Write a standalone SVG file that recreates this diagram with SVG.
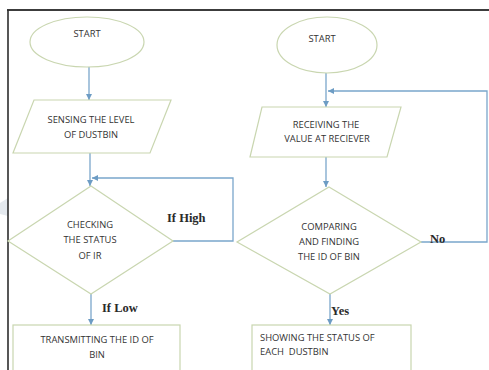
<svg xmlns="http://www.w3.org/2000/svg" width="489" height="370" viewBox="0 0 489 370">
<defs>
<marker id="ah" markerUnits="userSpaceOnUse" markerWidth="7" markerHeight="7" refX="6" refY="3.5" orient="auto">
<path d="M0,0.5 L6,3.5 L0,6.5 z" fill="#6d9cc4"/>
</marker>
<style>
.shape{fill:#ffffff;stroke:#c9d6b0;stroke-width:1.2}
.conn{fill:none;stroke:#7aa6cb;stroke-width:1.3}
.t{font-family:"Open Sans","Liberation Sans",sans-serif;font-size:9.4px;fill:#333333;text-anchor:middle}
.tl{font-family:"Open Sans","Liberation Sans",sans-serif;font-size:9.4px;fill:#333333}
.lbl{font-family:"Liberation Serif","DejaVu Serif",serif;font-size:12.5px;font-weight:bold;fill:#2a2a2a}
</style>
</defs>
<rect x="0" y="0" width="489" height="370" fill="#ffffff"/>
<polygon points="0,203 8,198 8,216 0,214" fill="#e4e9ee"/>
<g id="frame">
<line x1="7" y1="10" x2="489" y2="10" stroke="#3c3c3c" stroke-width="2"/>
<line x1="8" y1="10" x2="8" y2="370" stroke="#2c2c2c" stroke-width="1.6"/>
</g>
<g id="connectors">
<line class="conn" x1="89" y1="67" x2="89" y2="100" marker-end="url(#ah)"/>
<line class="conn" x1="90" y1="153" x2="90" y2="186" marker-end="url(#ah)"/>
<polyline class="conn" points="173,241 233,241 233,178 92,178" marker-end="url(#ah)"/>
<line class="conn" x1="91" y1="294" x2="91" y2="325" marker-end="url(#ah)"/>
<line class="conn" x1="326" y1="73" x2="326" y2="107" marker-end="url(#ah)"/>
<polyline class="conn" points="421,242 487,242 487,91 328,91" marker-end="url(#ah)"/>
<line class="conn" x1="326" y1="157" x2="326" y2="187" marker-end="url(#ah)"/>
<line class="conn" x1="330" y1="294" x2="330" y2="325" marker-end="url(#ah)"/>
</g>
<g id="start1">
<ellipse class="shape" cx="87" cy="42" rx="57" ry="25"/>
<text class="t" x="87" y="37">START</text>
</g>
<g id="sensing">
<polygon class="shape" points="34,100 171,100 150,153 13,153"/>
<text class="t" x="91" y="123">SENSING THE LEVEL</text>
<text class="t" x="91" y="138">OF DUSTBIN</text>
</g>
<g id="checking">
<polygon class="shape" points="91,186 173,241 91,294 8,241"/>
<text class="t" x="90" y="228">CHECKING</text>
<text class="t" x="90" y="243">THE STATUS</text>
<text class="t" x="90" y="259">OF IR</text>
</g>
<g id="transmitting">
<rect class="shape" x="13" y="325" width="167" height="60"/>
<text class="t" x="97" y="343">TRANSMITTING THE ID OF</text>
<text class="t" x="97" y="358">BIN</text>
</g>
<g id="start2">
<ellipse class="shape" cx="327" cy="45" rx="50" ry="28"/>
<text class="t" x="322" y="42">START</text>
</g>
<g id="receiving">
<polygon class="shape" points="262,107 401,107 387,157 250,157"/>
<text class="t" x="326" y="128">RECEIVING THE</text>
<text class="t" x="327" y="142">VALUE AT RECIEVER</text>
</g>
<g id="comparing">
<polygon class="shape" points="329,187 421,242 330,294 237,242"/>
<text class="t" x="329" y="230">COMPARING</text>
<text class="t" x="329" y="245">AND FINDING</text>
<text class="t" x="329" y="260">THE ID OF BIN</text>
</g>
<g id="showing">
<rect class="shape" x="252" y="325" width="159" height="60"/>
<text class="tl" x="260" y="341">SHOWING THE STATUS OF</text>
<text class="tl" x="260" y="355" xml:space="preserve">EACH  DUSTBIN</text>
</g>
<g id="labels">
<text class="lbl" x="167" y="222">If High</text>
<text class="lbl" x="102" y="312">If Low</text>
<text class="lbl" x="430" y="243">No</text>
<text class="lbl" x="331" y="315">Yes</text>
</g>
</svg>
